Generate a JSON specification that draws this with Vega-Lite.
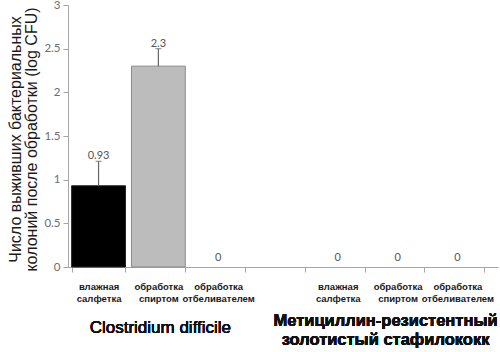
{
  "$schema": "https://vega.github.io/schema/vega-lite/v6.json",
  "width": 430,
  "height": 262,
  "autosize": {"type": "none"},
  "padding": {"left": 68, "top": 5, "right": 2, "bottom": 85},
  "background": "white",
  "config": {"view": {"stroke": null}, "font": "Liberation Sans"},
  "datasets": {
    "bars": [
      {"cat": "влажная салфетка", "kind": "wet", "value": 0.93, "upper": 1.21, "text": "0.93"},
      {"cat": "обработка спиртом", "kind": "alcohol", "value": 2.3, "upper": 2.5, "text": "2.3"},
      {"cat": "обработка отбеливателем", "kind": "bleach", "value": 0, "text": "0"},
      {"cat": "влажная салфетка ", "kind": "wet", "value": 0, "text": "0"},
      {"cat": "обработка спиртом ", "kind": "alcohol", "value": 0, "text": "0"},
      {"cat": "обработка отбеливателем ", "kind": "bleach", "value": 0, "text": "0"}
    ]
  },
  "data": {"name": "bars"},
  "layer": [
    {
      "transform": [{"filter": "datum.value > 0"}],
      "mark": {"type": "bar", "strokeWidth": 1},
      "encoding": {
        "x": {
          "field": "cat", "type": "nominal", "sort": null,
          "scale": {"domain": ["влажная салфетка", "обработка спиртом", "обработка отбеливателем", " ", "влажная салфетка ", "обработка спиртом ", "обработка отбеливателем "], "paddingInner": 0.1, "paddingOuter": 0.145, "align": 0.21},
          "axis": {
            "title": null, "labelAngle": 0, "labelExpr": "isValid(datum.value) ? split(trim(datum.value), ' ') : ''",
            "tickBand": "extent", "domainColor": "#a6a6a6", "tickColor": "#a6a6a6", "tickSize": 5,
            "labelFont": "Liberation Sans", "labelFontWeight": "bold", "labelFontSize": 9.5, "labelColor": "#1a1a1a",
            "labelPadding": 9, "labelLineHeight": 12
          }
        },
        "y": {
          "field": "value", "type": "quantitative",
          "scale": {"domain": [0, 3]},
          "axis": {
            "values": [0, 0.5, 1, 1.5, 2, 2.5, 3], "labelExpr": "'' + datum.value",
            "grid": false, "domainColor": "#a6a6a6", "tickColor": "#a6a6a6", "tickSize": 5,
            "labelFont": "Lato", "labelFontSize": 11.5, "labelColor": "#6e6e6e", "labelPadding": 3,
            "title": ["Число выживших бактериальных", "колоний после обработки (log CFU)"],
            "titleFont": "Liberation Sans", "titleFontSize": 16, "titleFontWeight": "normal", "titleColor": "#1a1a1a",
            "titleLineHeight": 16, "titleX": -61, "titleY": 134, "titleAngle": -90, "titleAlign": "center", "titleBaseline": "top"
          }
        },
        "fill": {"field": "kind", "type": "nominal", "scale": {"domain": ["wet", "alcohol"], "range": ["#000000", "#bcbcbc"]}, "legend": null},
        "stroke": {"field": "kind", "type": "nominal", "scale": {"domain": ["wet", "alcohol"], "range": ["#222222", "#8a8a8a"]}, "legend": null}
      }
    },
    {
      "transform": [{"filter": "isValid(datum.upper)"}],
      "mark": {"type": "rule", "color": "#666666", "strokeWidth": 1.2},
      "encoding": {
        "x": {"field": "cat", "type": "nominal", "sort": null},
        "y": {"field": "value", "type": "quantitative", "scale": {"domain": [0, 3]}},
        "y2": {"field": "upper"}
      }
    },
    {
      "transform": [{"filter": "isValid(datum.upper)"}],
      "mark": {"type": "tick", "color": "#666666", "size": 6, "thickness": 1.2},
      "encoding": {
        "x": {"field": "cat", "type": "nominal", "sort": null},
        "y": {"field": "upper", "type": "quantitative", "scale": {"domain": [0, 3]}}
      }
    },
    {
      "transform": [{"filter": "isValid(datum.upper)"}],
      "mark": {"type": "text", "font": "Lato", "fontSize": 11, "color": "#555555", "baseline": "bottom", "dy": 0},
      "encoding": {
        "x": {"field": "cat", "type": "nominal", "sort": null},
        "y": {"field": "upper", "type": "quantitative", "scale": {"domain": [0, 3]}},
        "text": {"field": "text"}
      }
    },
    {
      "transform": [{"filter": "!isValid(datum.upper)"}],
      "mark": {"type": "text", "font": "Lato", "fontSize": 11, "color": "#555555", "baseline": "bottom", "dy": -4},
      "encoding": {
        "x": {"field": "cat", "type": "nominal", "sort": null},
        "y": {"field": "value", "type": "quantitative", "scale": {"domain": [0, 3]}},
        "text": {"field": "text"}
      }
    },
    {
      "mark": {"type": "text", "font": "Liberation Sans", "fontSize": 17, "color": "#111111", "baseline": "middle", "align": "center", "dx": 2},
      "encoding": {
        "x": {"datum": "обработка спиртом", "type": "nominal"},
        "y": {"datum": -0.7, "type": "quantitative", "scale": {"domain": [0, 3]}},
        "text": {"value": "Clostridium difficile"}
      }
    },
    {
      "mark": {"type": "text", "font": "Liberation Sans", "fontSize": 16.5, "fontWeight": "bold", "color": "#111111", "baseline": "middle", "align": "center", "lineHeight": 19, "dx": -12},
      "encoding": {
        "x": {"datum": "обработка спиртом ", "type": "nominal"},
        "y": {"datum": -0.62, "type": "quantitative", "scale": {"domain": [0, 3]}},
        "text": {"value": ["Метициллин-резистентный", "золотистый стафилококк"]}
      }
    }
  ]
}
